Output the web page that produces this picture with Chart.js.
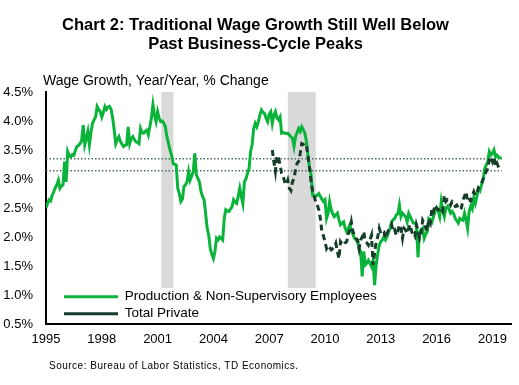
<!DOCTYPE html>
<html><head><meta charset="utf-8">
<script src="https://cdn.jsdelivr.net/npm/chart.js@4"></script>
<style>html,body{margin:0;padding:0;background:#fff;}#wrap{width:519px;height:385px;}</style>
</head><body><div id="wrap"><canvas id="c" width="519" height="385"></canvas></div>
<script>
// ---- data (monthly, year/year % change) ----
const productionStart = 1995;           // Jan 1995
const production = [
 2.50,2.58,2.64,2.62,2.72,2.78,2.85,2.90,2.98,2.84,2.88,2.90,
 3.30,2.95,3.47,3.40,3.38,3.42,3.41,3.50,3.56,3.58,3.61,3.66,
 3.93,3.59,3.70,3.82,3.59,3.80,3.96,4.02,4.07,4.25,4.20,4.16,
 4.07,4.15,4.25,4.20,4.24,4.25,4.20,4.05,3.85,3.61,3.68,3.73,
 3.65,3.60,3.56,3.58,3.59,3.90,3.61,3.70,3.73,3.68,3.64,3.63,
 3.61,3.87,3.80,3.79,3.82,3.84,3.76,3.90,4.05,4.28,4.10,3.99,
 4.16,4.05,3.99,4.00,3.96,3.90,3.73,3.62,3.50,3.41,3.27,3.25,
 3.24,2.84,2.75,2.61,2.65,2.87,2.90,2.95,3.13,2.98,3.05,3.13,
 3.44,3.07,3.01,2.95,2.78,2.70,2.64,2.40,2.15,2.03,1.80,1.70,
 1.63,1.75,1.98,1.95,2.00,1.98,1.95,2.32,2.47,2.45,2.44,2.48,
 2.52,2.64,2.60,2.58,2.70,2.84,2.70,2.58,2.95,3.00,3.10,3.18,
 3.47,3.60,3.87,3.96,3.90,3.99,4.10,4.19,4.15,4.13,4.05,3.99,
 4.12,4.16,3.96,4.10,4.16,4.05,4.02,4.07,3.79,3.80,3.79,3.78,
 3.79,3.76,3.73,3.70,3.56,3.73,3.80,3.87,3.82,3.90,3.85,3.79,
 3.65,3.41,3.20,3.07,2.72,2.72,2.70,2.72,2.75,2.70,2.65,2.61,
 2.64,2.32,2.41,2.61,2.47,2.40,2.35,2.38,2.41,2.30,2.21,2.24,
 2.26,2.15,2.09,2.15,2.21,2.10,2.05,1.98,1.95,1.92,1.80,1.75,
 1.32,1.75,1.52,1.55,1.60,1.55,1.49,1.60,1.17,1.52,1.70,1.86,
 1.92,1.95,2.00,1.95,2.00,2.09,2.15,2.26,2.30,2.32,2.38,2.40,
 2.55,2.35,2.41,2.38,2.35,2.26,2.41,2.35,2.29,2.24,2.24,2.21,
 1.65,2.09,2.12,2.15,1.98,2.05,2.09,2.32,2.30,2.26,2.35,2.44,
 2.50,2.45,2.35,2.61,2.45,2.35,2.50,2.53,2.48,2.41,2.44,2.40,
 2.32,2.28,2.24,2.32,2.30,2.29,2.41,2.30,2.15,2.44,2.53,2.48,
 2.67,2.58,2.70,2.84,2.80,2.90,2.98,3.18,3.24,3.30,3.47,3.41,
 3.44,3.50,3.38,3.41,3.38,3.36,3.36
];
const totalPrivateStart = 2007 + 2/12;  // Mar 2007
const totalPrivate = [
 3.50,3.30,3.13,3.40,3.36,3.25,3.10,3.05,2.95,2.90,
 2.98,2.84,2.80,2.95,3.01,3.16,3.27,3.30,3.44,3.61,3.60,3.56,
 3.58,3.40,3.20,2.95,2.80,2.70,2.61,2.55,2.47,2.32,2.09,2.02,
 1.92,1.80,1.85,1.82,1.78,1.80,1.82,1.89,1.75,1.63,1.92,1.88,
 1.86,1.90,1.92,2.05,2.12,2.26,2.10,2.03,1.98,1.95,1.80,1.95,
 2.00,2.09,1.92,1.90,1.86,1.95,2.03,1.52,1.72,1.92,2.00,2.15,
 2.06,2.09,2.09,1.98,2.05,2.12,2.15,2.21,2.09,2.12,2.03,2.10,
 2.21,2.15,1.98,2.15,2.12,2.06,2.15,2.21,2.09,2.03,2.00,2.21,
 2.12,1.98,2.06,2.29,2.24,2.15,2.10,2.32,2.25,2.50,2.44,2.55,
 2.50,2.47,2.47,2.50,2.45,2.72,2.61,2.64,2.60,2.55,2.61,2.58,
 2.53,2.55,2.50,2.47,2.50,2.64,2.70,2.78,2.61,2.64,2.62,2.70,
 2.78,2.72,2.75,2.85,2.90,2.93,3.00,3.07,3.13,3.18,3.33,3.38,
 3.30,3.38,3.21,3.27,3.20,3.16
];
const seriesNames = ['Production & Non-Supervisory Employees', 'Total Private'];
const referenceLevels = [3.35, 3.14];
const referenceSpan = [1995, 2019.5];
const recessionStarts = [2001.2, 2008.0];
const recessionEnds = [2001.85, 2009.5];
const xTickLabels = ['1995','1998','2001','2004','2007','2010','2013','2016','2019'];
const yTickValues = [0.5,1.0,1.5,2.0,2.5,3.0,3.5,4.0,4.5];
const titleLines = ['Chart 2: Traditional Wage Growth Still Well Below', 'Past Business-Cycle Peaks'];
const yAxisLabel = 'Wage Growth, Year/Year, % Change';
const sourceText = 'Source: Bureau of Labor Statistics, TD Economics.';

// ---- build ----
const prodPts = production.map((v, i) => ({x: productionStart + i / 12, y: v}));
const tpPts = totalPrivate.map((v, i) => ({x: totalPrivateStart + i / 12, y: v}));
const FONT = '"Liberation Sans", Arial, sans-serif';
Chart.defaults.font.family = FONT;
Chart.defaults.color = '#000';

const bandsPlugin = {
  id: 'bands',
  beforeDatasetsDraw(chart) {
    const {ctx, chartArea: ca, scales: {x}} = chart;
    ctx.save();
    ctx.fillStyle = '#d9d9d9';
    recessionStarts.forEach((s, i) => {
      const x0 = x.getPixelForValue(s), x1 = x.getPixelForValue(recessionEnds[i]);
      ctx.fillRect(x0, ca.top, x1 - x0, (ca.bottom - 36) - ca.top);
    });
    ctx.restore();
  }
};
const legendPos = {
  id: 'legendPos',
  afterLayout(chart) {
    const lg = chart.legend, ca = chart.chartArea;
    if (!lg) return;
    lg.left = ca.left + 14.5; lg.right = ca.right; lg.top = ca.top; lg.bottom = ca.bottom;
  }
};
const textPlugin = {
  id: 'texts',
  afterDraw(chart) {
    const ctx = chart.ctx;
    ctx.save();
    ctx.fillStyle = '#000';
    ctx.textAlign = 'left';
    ctx.textBaseline = 'alphabetic';
    ctx.font = '14px ' + FONT;
    ctx.fillText(yAxisLabel, 43, 85);
    ctx.font = '10px ' + FONT;
    try { ctx.letterSpacing = '0.5px'; } catch (e) {}
    ctx.fillText(sourceText, 49, 369);
    ctx.restore();
  }
};

const datasets = [
  {label: seriesNames[0], data: prodPts, borderColor: '#0AB43A', backgroundColor: '#0AB43A',
   borderWidth: 3, pointRadius: 0, tension: 0, order: 1},
  {label: seriesNames[1], data: tpPts, borderColor: '#163d29', backgroundColor: '#163d29',
   borderWidth: 3, borderDash: [6, 4], pointRadius: 0, tension: 0, order: 0}
];
referenceLevels.forEach(v => datasets.push({
  label: 'ref', data: referenceSpan.map(xv => ({x: xv, y: v})), borderColor: '#4f6f62',
  borderWidth: 1.5, borderDash: [1.5, 2], pointRadius: 0, order: 2
}));

new Chart(document.getElementById('c'), {
  type: 'line',
  data: {datasets},
  options: {
    responsive: false, animation: false,
    layout: {padding: {left: 0, right: 8, top: 0, bottom: 0}},
    plugins: {
      title: {display: true, text: titleLines, color: '#000',
        font: {size: 16.5, weight: 'bold', family: FONT, lineHeight: 1.16}, padding: {top: 16, bottom: 37.7}},
      legend: {position: 'chartArea', align: 'end',
        labels: {usePointStyle: true, pointStyle: 'line', pointStyleWidth: 54, padding: 3.5,
          color: '#000', font: {size: 13.5, family: FONT},
          filter: item => item.datasetIndex < 2,
          sort: (a, b) => a.datasetIndex - b.datasetIndex}},
      tooltip: {enabled: false}
    },
    scales: {
      x: {type: 'linear', min: 1995, max: 2020,
        afterBuildTicks: s => { s.ticks = xTickLabels.map(t => ({value: Number(t)})); },
        afterFit: s => { s.height = 61; },
        ticks: {callback: v => String(v), font: {size: 13}, padding: 8, maxRotation: 0, autoSkip: false, color: '#000'},
        grid: {display: false, drawTicks: false},
        border: {display: true, color: '#000', width: 2}},
      y: {type: 'linear', min: 0.5, max: 4.5,
        afterBuildTicks: s => { s.ticks = yTickValues.map(v => ({value: v})); },
        afterFit: s => { s.width = 46; },
        ticks: {callback: v => v.toFixed(1) + '%', font: {size: 13}, padding: 13, color: '#000'},
        grid: {display: false, drawTicks: false},
        border: {display: true, color: '#000', width: 2}}
    }
  },
  plugins: [bandsPlugin, legendPos, textPlugin]
});
</script></body></html>
